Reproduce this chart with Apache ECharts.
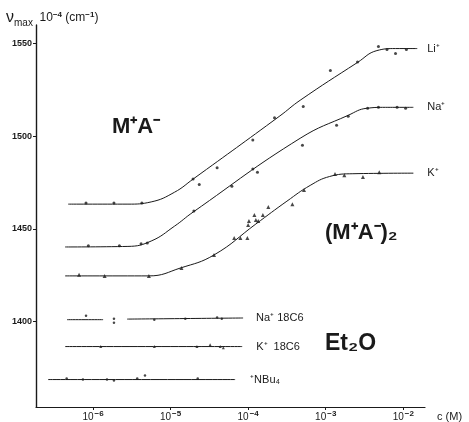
<!DOCTYPE html>
<html>
<head>
<meta charset="utf-8">
<script src="https://cdn.jsdelivr.net/npm/echarts@6/dist/echarts.min.js"></script>
<style>
	html, body {margin: 0; padding: 0; background: #fff;}
	#chart {width: 469px; height: 422px;}
</style>
</head>
<body>
<div id="chart"></div>
<script>
	// x = log10 c(M), y = nu max
	var xTicks = [-6, -5, -4, -3, -2];
	var yTicks = [1400, 1450, 1500, 1550];

	var liCurve = [[-6.32, 1463.4], [-5.55, 1463.4], [-5.25, 1464.6], [-4.95, 1469.8], [-4.71, 1476.9], [-3.59, 1511.0], [-3.33, 1519.4], [-2.59, 1539.8], [-2.34, 1546.2], [-2.10, 1547.3], [-1.82, 1547.3]];
	var naCurve = [[-6.36, 1440.3], [-5.55, 1440.6], [-5.25, 1443.5], [-4.95, 1451.5], [-4.71, 1459.1], [-3.33, 1498.9], [-2.71, 1511.3], [-2.47, 1515.1], [-2.23, 1515.6], [-1.87, 1515.6]];
	var kCurve = [[-6.36, 1424.7], [-5.28, 1424.7], [-4.87, 1429.0], [-4.44, 1436.0], [-3.90, 1452.7], [-3.50, 1465.0], [-3.20, 1473.5], [-2.95, 1478.3], [-2.65, 1479.8], [-1.87, 1480.1]];

	var liPts = [[-6.09, 1464], [-5.73, 1464], [-5.37, 1464], [-4.71, 1477], [-4.63, 1474], [-4.40, 1483], [-3.94, 1498], [-3.66, 1510], [-3.29, 1516], [-2.94, 1535.5], [-2.59, 1540], [-2.32, 1548.4], [-2.21, 1546.8], [-2.10, 1544.6], [-1.96, 1546.8]];
	var naPts = [[-6.06, 1440.9], [-5.66, 1440.9], [-5.38, 1442], [-5.30, 1442.5], [-4.70, 1459.7], [-4.21, 1473.1], [-3.94, 1482.3], [-3.88, 1480.6], [-3.30, 1495.2], [-2.86, 1505.9], [-2.71, 1510.8], [-2.46, 1515.1], [-2.32, 1515.6], [-2.08, 1515.6], [-1.97, 1515.1]];
	var kPts = [[-6.18, 1425.3], [-5.85, 1424.7], [-5.28, 1424.7], [-4.86, 1429], [-4.44, 1436], [-4.18, 1445.2], [-4.10, 1445.2], [-4.01, 1445.2], [-4.00, 1452.2], [-3.99, 1454.3], [-3.92, 1457.5], [-3.90, 1454.8], [-3.87, 1454.3], [-3.81, 1457.5], [-3.74, 1461.8], [-3.43, 1463.4], [-3.28, 1471], [-2.88, 1479.6], [-2.76, 1479], [-2.52, 1478], [-2.31, 1480.6]];

	var na18Line = [[-6.335, 1401.1], [-5.87, 1401.1], [-5.80, '-'], [-5.56, 1401.4], [-4.065, 1402.0]];
	var k18Line = [[-6.36, 1386.6], [-4.077, 1386.6]];
	var nbuLine = [[-6.58, 1368.8], [-4.168, 1368.8]];

	var na18Pts = [[-6.09, 1403.2], [-5.73, 1401.6], [-5.73, 1399.5], [-5.21, 1401.1], [-4.81, 1401.6], [-4.40, 1402.2], [-4.34, 1401.6]];
	var k18Pts = [[-5.90, 1386.6], [-5.21, 1386.6], [-4.66, 1386.6], [-4.49, 1387.6], [-4.36, 1386.6], [-4.32, 1386]];
	var nbuPts = [[-6.34, 1369.4], [-6.13, 1368.8], [-5.82, 1368.8], [-5.73, 1368.3], [-5.43, 1369.4], [-5.33, 1371], [-4.65, 1369.4]];

	var INK = '#1a1a1a';
	var FONT = '"Liberation Sans", Arial, sans-serif';

	function curve(data, label, dist){
		return {
			type: 'line', data: data, showSymbol: false, smooth: 0.45,
			lineStyle: {color: INK, width: 1},
			endLabel: {show: true, formatter: label, distance: dist, color: INK, fontSize: 11, fontFamily: FONT},
			z: 2
		};
	}
	function dots(data, symbol, size){
		return {
			type: 'scatter', data: data, symbol: symbol, symbolSize: size,
			itemStyle: {color: INK}, z: 3
		};
	}

	var chart = echarts.init(document.getElementById('chart'));
	chart.setOption({
		backgroundColor: '#fff',
		animation: false,
		grid: {left: 36, right: 44, top: 25, bottom: 14},
		xAxis: {
			type: 'value', min: -6.735, max: -1.72,
			axisLine: {lineStyle: {color: INK, width: 1.2}},
			axisTick: {show: true, length: 3, customValues: xTicks, lineStyle: {color: INK}},
			axisLabel: {
				customValues: xTicks, margin: 3, color: INK, fontSize: 10, fontFamily: FONT,
				formatter: function(v){ return '10{s|' + String(v).replace('-', '−') + '}'; },
				rich: {s: {fontSize: 8, fontWeight: 'bold', fontFamily: FONT, color: INK, padding: [0, 0, 6, 1]}}
			},
			splitLine: {show: false}
		},
		yAxis: {
			type: 'value', min: 1354, max: 1560,
			axisLine: {show: true, lineStyle: {color: INK, width: 1.4}},
			axisTick: {show: true, length: 3, customValues: yTicks, lineStyle: {color: INK}},
			axisLabel: {
				customValues: yTicks, margin: 4, color: INK, fontSize: 9, fontWeight: 'bold', fontFamily: FONT,
				formatter: function(v){ return String(v); }
			},
			splitLine: {show: false}
		},
		graphic: [
			{type: 'text', left: 6, top: 10, style: {
				text: '{nu|ν}{sub|max}  {u|10}{s|−4}{u| (cm}{s|−1}{u|)}',
				rich: {
					nu: {fontSize: 16, fontFamily: FONT, fill: INK},
					sub: {fontSize: 10, fontFamily: FONT, fill: INK, padding: [10, 0, 0, 0]},
					u: {fontSize: 12, fontFamily: FONT, fill: INK},
					s: {fontSize: 8, fontWeight: 'bold', fontFamily: FONT, fill: INK, padding: [0, 0, 6, 0]}
				}
			}},
			{type: 'text', left: 437, top: 411, style: {text: 'c (M)', fontSize: 11, fontFamily: FONT, fill: INK}},
			{type: 'text', left: 112, top: 116, style: {text: 'M⁺A⁻', fontSize: 22, fontWeight: 'bold', fontFamily: FONT, fill: INK}},
			{type: 'text', left: 325, top: 222, style: {text: '(M⁺A⁻)₂', fontSize: 22, fontWeight: 'bold', fontFamily: FONT, fill: INK}},
			{type: 'text', left: 325, top: 332, style: {text: 'Et₂O', fontSize: 23, fontWeight: 'bold', fontFamily: FONT, fill: INK}}
		],
		series: [
			curve(liCurve, 'Li⁺', 10),
			curve(naCurve, 'Na⁺', 14),
			curve(kCurve, 'K⁺', 14),
			curve(na18Line, 'Na⁺ 18C6', 13),
			curve(k18Line, 'K⁺  18C6', 14),
			curve(nbuLine, '⁺NBu₄', 15),
			dots(liPts, 'circle', 3),
			dots(naPts, 'circle', 3),
			dots(kPts, 'triangle', 4),
			dots(na18Pts, 'circle', 2.5),
			dots(k18Pts, 'triangle', 3),
			dots(nbuPts, 'circle', 2.5)
		]
	});
</script>
</body>
</html>
